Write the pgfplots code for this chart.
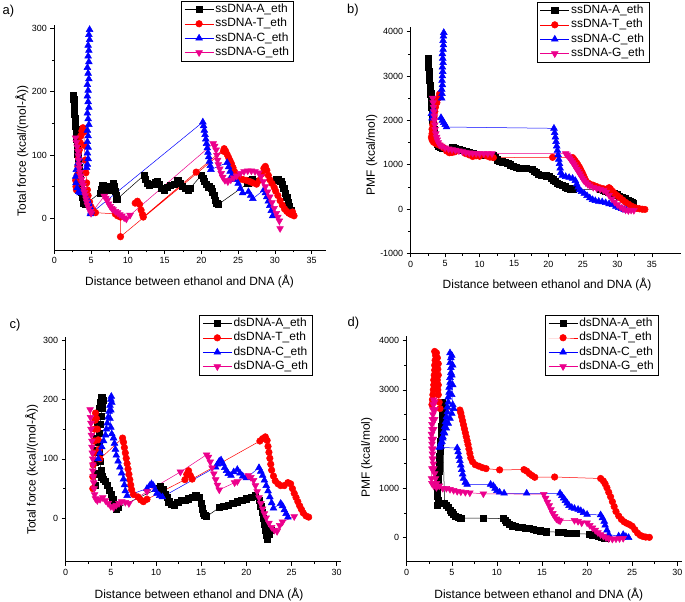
\documentclass[border=0pt]{standalone}
\usepackage{fontspec}
\setmainfont{Liberation Sans}
\usepackage{pgfplots}
\pgfplotsset{compat=1.18}

\pgfplotsset{
  panel/.style={
    scale only axis,
    axis lines=left,
    axis line style={-, line width=0.6bp},
    tick align=outside,
    major tick length=4bp, minor tick length=2.4bp,
    every tick/.style={black, line width=0.5bp},
    minor x tick num=1, minor y tick num=1,
    tick label style={font=\fontsize{9}{10}\selectfont},
    /pgf/number format/assume math mode=true,
    /pgf/number format/1000 sep={},
    label style={font=\fontsize{12}{14}\selectfont},
    xlabel={Distance between ethanol and DNA (Å)},
    unbounded coords=jump,
    legend cell align=left,
    legend style={draw=black, line width=0.5bp, anchor=north west,
      font=\fontsize{12}{14}\selectfont, inner xsep=3bp, inner ysep=1bp,
      row sep=0bp, nodes={inner sep=1.5bp, text height=8.8bp, text depth=2.6bp}},
    legend image code/.code={\draw[mark repeat=2,mark phase=2,#1]
      plot coordinates {(0bp,0bp) (14.5bp,0bp) (29bp,0bp)};},
    clip=false,
  },
  sA/.style={black, line width=0.5bp, mark=square*, mark size=3.1bp},
  sT/.style={red, line width=0.5bp, mark=*, mark size=3.3bp},
  sC/.style={blue, line width=0.5bp, mark=triangle*, mark size=3.9bp},
  sG/.style={magenta, line width=0.5bp, mark=triangle*, mark size=3.9bp, mark options={rotate=180}},
}

\begin{document}
\begin{tikzpicture}
\path[use as bounding box] (0,0) rectangle (685bp,602bp);

% a) ssDNA total force
\begin{axis}[panel, at={(54.3bp,352bp)}, anchor=south west,
  width=272.1bp, height=224.8bp,
  xmin=0, xmax=37, ymin=-50, ymax=305,
  xtick={0,5,...,35}, ytick={0,100,200,300},
  ylabel={Total force (kcal/(mol-Å))},
  xlabel style={at={(axis description cs:0.497,-0.141)}, anchor=center},
  ylabel style={at={(axis description cs:-0.1187,0.44)}, anchor=center},
  legend style={at={(0.466,1.108)}}]
\addplot[sA] coordinates {
(2.6,195) (2.65,188) (2.7,180) (2.72,172) (2.75,165) (2.8,158) (2.85,150) (2.9,145) (2.95,140) (3.0,133) (3.05,125) (3.1,117) (3.15,110) (3.2,102) (3.25,95) (3.3,88) (3.35,80) (3.4,72) (3.5,62) (3.6,52) (3.7,42) (3.8,34) (3.9,28) (4.0,24) (4.2,22)
(6.2,40) (6.4,46) (6.6,52) (6.8,50) (7.0,45) (7.6,44) (7.8,50) (8.0,55) (8.2,50) (8.3,43) (8.4,36) (8.5,30)
(12.2,68) (12.4,62) (12.6,56) (12.9,52) (13.3,54) (13.7,57) (14.0,58) (14.3,54) (14.6,48) (15.0,45) (15.4,49) (15.8,52) (16.3,54) (16.8,60) (17.1,56) (17.4,51) (17.8,48) (18.2,45) (18.5,48)
(20.0,68) (20.2,63) (20.4,58) (20.7,54) (21.0,50) (21.3,47) (21.5,42) (21.7,36) (21.9,29) (22.1,24) (22.3,22)
(26.3,55) (26.6,60) (26.9,62) (27.2,58)
(30.2,62) (30.5,61) (30.8,58) (31.0,54) (31.2,47) (31.4,40) (31.6,33) (31.8,26) (32.0,19) (32.2,12)
};
\addplot[sT] coordinates {
(2.9,60) (2.95,50) (3.0,45) (3.05,55) (3.1,68) (3.2,82) (3.3,95) (3.4,108) (3.5,120) (3.6,130) (3.75,138) (3.9,143) (4.0,136) (4.1,115) (4.2,92) (4.3,72) (4.4,56) (4.5,45) (4.6,36) (4.8,26) (5.0,18) (5.3,12) (5.6,9) (8.3,7) (8.6,4) (9.0,2) (9.0,-29) (23.0,106)
(nan,nan)
(11.0,24) (11.3,27) (11.6,22) (11.8,13) (12.0,6) (12.1,2) (19.3,73) (23.1,110) (23.3,106) (23.5,101) (23.7,96) (23.9,91) (24.1,86) (24.3,80) (24.5,74) (24.7,68) (24.9,64) (25.3,62) (25.7,61) (26.1,60) (26.6,58) (27.0,56) (27.5,54) (27.9,60) (28.2,70) (28.5,79) (28.7,82) (28.9,76) (29.1,68) (29.3,61) (29.6,55) (29.9,49) (30.1,43) (30.4,36) (30.7,28) (31.0,21) (31.3,15) (31.6,11) (31.9,8) (32.2,6) (32.4,10) (32.6,4)
};
\addplot[sC] coordinates {
(4.8,298) (4.7,290) (4.8,282) (4.6,273) (4.7,265) (4.6,256) (4.7,247) (4.5,238) (4.6,229) (4.7,220) (4.5,211) (4.6,202) (4.5,193) (4.6,184) (4.7,175) (4.5,166) (4.6,157) (4.7,148) (4.5,139) (4.6,130) (4.5,121) (4.6,112) (4.5,103) (4.6,94) (4.5,85) (4.4,80) (3.4,95) (3.2,87) (3.0,77) (2.9,66) (2.95,56) (3.1,48) (3.3,42) (3.5,40) (4.5,30) (4.7,24) (4.9,17) (5.0,11) (4.9,7)
(20.2,152) (20.3,146) (20.4,139) (20.5,132) (20.6,125) (20.7,118) (20.8,111) (20.9,104) (21.0,97) (21.1,90) (21.2,83) (21.3,77)
(23.5,88) (23.7,81) (23.9,74) (24.1,67) (24.3,61) (24.6,62) (25.0,55) (25.3,47) (25.6,40) (26.4,42) (26.7,36) (27.0,31)
(28.5,45) (28.7,40) (28.9,34) (29.1,27) (29.3,20) (29.5,12) (29.7,4)
};
\addplot[sG] coordinates {
(2.9,127) (3.0,120) (3.1,113) (3.2,106) (3.25,99) (3.3,92) (3.35,85) (3.4,79) (3.5,73) (3.6,67) (3.7,62) (3.8,57) (3.9,52) (4.0,46) (4.1,41) (4.2,36) (4.3,31) (4.4,26) (4.5,21) (4.7,16) (4.9,11) (5.0,8)
(6.8,35) (7.0,32) (7.2,28) (7.4,23) (7.6,19) (7.8,16) (8.0,14) (8.3,11) (8.6,9) (8.9,6) (9.2,4) (9.5,1) (9.8,-1) (10.3,5)
(21.6,118) (21.8,114) (22.0,108) (22.1,100) (22.2,92) (22.3,85) (22.5,78) (22.7,71) (22.9,65) (23.2,60) (23.6,58) (24.0,61) (24.4,64) (24.8,67) (25.3,71) (25.8,74) (26.3,75) (26.8,75) (27.3,74) (27.8,72) (28.1,66) (28.4,58) (28.7,50) (29.0,42) (29.3,34) (29.6,25) (29.9,16) (30.2,8) (30.4,2) (30.6,-4) (30.7,-16)
};
\legend{ssDNA-A\_eth, ssDNA-T\_eth, ssDNA-C\_eth, ssDNA-G\_eth}
\end{axis}

% b) ssDNA PMF
\begin{axis}[panel, at={(410.7bp,348.7bp)}, anchor=south west,
  width=270bp, height=226bp,
  xmin=0, xmax=39.2, ymin=-1000, ymax=4100,
  xtick={0,5,...,35}, ytick={-1000,0,...,4000},
  ylabel={PMF (kcal/mol)},
  xlabel style={at={(axis description cs:0.505,-0.140)}, anchor=center},
  ylabel style={at={(axis description cs:-0.1444,0.435)}, anchor=center},
  legend style={at={(0.467,1.112)}}]
\addplot[sA] coordinates {
(2.5,3400) (2.55,3300) (2.6,3200) (2.65,3100) (2.7,3000) (2.75,2900) (2.8,2800) (2.85,2700) (2.9,2600) (2.95,2500) (3.0,2400) (3.05,2300) (3.1,2200) (3.15,2100) (3.2,2000) (3.3,1900) (3.35,1800) (3.4,1700) (3.5,1600) (3.6,1520) (3.8,1460) (4.0,1420) (4.3,1390) (4.6,1370)
(6.1,1380) (6.5,1370) (7.0,1345) (7.5,1320) (8.0,1300) (8.5,1280) (9.0,1255) (9.5,1235) (10.0,1220) (10.5,1210)
(12.0,1200) (12.3,1160) (12.6,1110) (12.9,1080) (13.3,1065) (13.7,1050) (14.1,1030) (14.5,1000) (14.9,960) (15.3,935) (15.8,925) (16.3,920) (16.8,915)
(17.6,890) (17.9,860) (18.2,820) (18.5,790) (18.9,770) (19.3,760) (19.7,750)
(20.1,740) (20.4,700) (20.7,660) (21.0,620) (21.3,585) (21.6,560) (22.0,530) (22.4,500) (22.8,475) (23.2,455) (23.6,440)
(27.5,440) (27.9,420) (28.3,400) (28.7,385) (29.1,365) (29.5,345) (29.9,320) (30.3,295) (30.7,270) (31.1,240) (31.5,205) (31.8,170) (32.1,140) (32.3,120)
};
\addplot[sT] coordinates {
(4.2,2600) (4.0,2500) (3.8,2400) (3.6,2300) (3.5,2200) (3.4,2100) (3.3,2000) (3.2,1900) (3.1,1800) (3.1,1700) (3.0,1620) (3.1,1560) (3.3,1510) (3.6,1480) (4.0,1450) (4.4,1420) (4.8,1380) (5.2,1310) (5.6,1270) (6.0,1275) (6.4,1290)
(8.0,1250) (8.5,1220) (9.0,1185) (9.5,1200) (10.0,1190) (11.0,1200) (11.5,1170) (12.0,1160) (20.6,1165) (23.5,1160)
(23.7,1120) (23.9,1080) (24.1,1040) (24.3,990) (24.5,940) (24.7,880) (24.9,820) (25.1,750) (25.3,680) (25.5,620) (25.8,580) (26.1,555) (26.5,535) (27.0,505) (27.5,475) (28.0,455) (28.4,445) (28.8,480) (29.0,450) (29.3,400) (29.6,350) (30.0,300) (30.4,250) (30.8,200) (31.2,150) (31.6,110) (32.0,70) (32.4,40) (32.8,15) (33.2,5) (33.6,-5) (34.0,-10)
};
\addplot[sC] coordinates {
(4.8,3980) (4.75,3900) (4.7,3800) (4.75,3700) (4.7,3600) (4.6,3500) (4.65,3400) (4.7,3300) (4.6,3200) (4.65,3100) (4.6,3000) (4.55,2900) (4.6,2800) (4.5,2700) (4.55,2600) (4.5,2500) (3.3,2250) (3.0,2150) (3.1,2050) (4.4,2060) (4.6,2000) (4.8,1950) (5.0,1900) (5.2,1850)
(20.8,1820) (20.9,1720) (21.0,1620) (21.1,1520) (21.2,1420) (21.3,1320) (21.4,1220) (21.5,1120) (21.6,1020) (21.7,920) (21.8,820) (22.0,760) (22.5,730) (23.0,710) (23.5,690) (23.9,640) (24.1,560) (24.3,490) (24.5,430) (24.8,390) (25.2,350) (25.6,300) (26.0,250) (26.4,210) (26.8,185) (27.3,170) (27.8,160) (28.3,140) (28.8,115) (29.3,95) (29.8,60) (30.2,30) (30.6,5) (31.0,-15) (31.3,-25)
};
\addplot[sG] coordinates {
(3.2,2500) (3.25,2400) (3.3,2300) (3.35,2200) (3.4,2100) (3.45,2000) (3.5,1900) (3.55,1800) (3.65,1700) (3.75,1620) (3.85,1560) (4.0,1500) (4.2,1450) (4.5,1420) (5.0,1380) (5.5,1355) (6.0,1340) (6.5,1330) (7.0,1315) (7.5,1295) (8.0,1275) (8.5,1265) (9.0,1260) (9.5,1255) (10.0,1250) (10.6,1250) (11.2,1250) (11.8,1250)
(22.5,1250) (22.7,1220) (22.9,1180) (23.1,1140) (23.3,1100) (23.5,1050) (23.7,1000) (23.9,950) (24.1,900) (24.3,850) (24.5,800) (24.7,750) (24.9,700) (25.1,650) (25.4,600) (25.7,560) (26.0,525) (26.5,490) (27.0,465) (27.5,445) (28.0,420) (28.4,380) (28.8,310) (29.2,230) (29.6,160) (30.0,100) (30.4,50) (30.8,10) (31.2,-20) (31.6,-35) (32.0,-25) (32.4,-30)
};
\legend{ssDNA-A\_eth, ssDNA-T\_eth, ssDNA-C\_eth, ssDNA-G\_eth}
\end{axis}

% c) dsDNA total force
\begin{axis}[panel, at={(65.7bp,40.3bp)}, anchor=south west,
  width=275.5bp, height=224.7bp,
  xmin=0, xmax=30.5, ymin=-73, ymax=305,
  xtick={0,5,...,30}, ytick={0,100,200,300},
  ylabel={Total force (kcal/(mol-Å))},
  xlabel style={at={(axis description cs:0.484,-0.148)}, anchor=center},
  ylabel style={at={(axis description cs:-0.1234,0.41)}, anchor=center},
  legend style={at={(0.485,1.098)}}]
\addplot[sA] coordinates {
(3.3,55) (3.25,75) (3.3,95) (3.35,115) (3.4,135) (3.5,155) (3.6,172) (3.7,185) (3.8,195) (3.9,201) (4.0,204) (4.1,198) (4.0,186) (3.9,172) (3.8,158) (3.7,143) (3.65,128) (3.7,112) (3.8,96) (3.9,80) (4.0,70) (4.2,66) (4.4,62) (4.6,55) (4.8,47) (5.0,40) (5.2,32) (5.4,24) (5.6,16) (5.8,18)
(10.2,50) (10.5,53) (10.8,48) (11.0,41) (11.2,35) (11.4,28) (11.7,24) (12.0,22) (12.4,27) (12.8,30) (13.2,31) (13.6,33) (14.0,35) (14.4,38) (14.8,36) (15.0,26) (15.1,16) (15.2,9) (15.4,5) (15.6,3)
(17.0,18) (17.5,20) (18.0,22) (18.5,25) (19.0,28) (19.5,30) (20.0,33) (20.5,35) (21.0,38) (21.4,30) (21.6,20) (21.8,10) (21.9,0) (22.0,-10) (22.1,-20) (22.2,-28) (22.3,-35) (22.5,-26) (22.8,-20)
};
\addplot[sT] coordinates {
(3.0,50) (3.0,70) (3.05,90) (3.1,110) (3.15,130) (3.2,150) (3.25,165) (3.3,177) (3.4,168) (3.5,150) (3.6,132) (3.7,116) (3.8,100) (6.3,135) (6.4,128) (6.5,119) (6.6,110) (6.7,101) (6.8,92) (6.9,83) (7.0,74) (7.1,65) (7.2,56) (7.3,48) (7.5,40) (8.0,36) (8.3,31) (8.6,28) (9.0,32)
(13.2,65) (13.4,74) (13.6,80) (13.8,72) (14.0,66)
(21.5,130) (21.8,134) (22.1,137) (22.3,131) (22.4,121) (22.5,111) (22.6,101) (22.7,91) (22.8,81) (23.0,71) (23.2,63) (23.5,58) (23.8,55) (24.2,55) (24.6,60) (24.9,58) (25.1,50) (25.3,42) (25.5,35) (25.7,28) (25.9,21) (26.1,15) (26.3,9) (26.6,4) (26.9,2)
};
\addplot[sC] coordinates {
(3.6,100) (3.8,110) (4.0,120) (4.2,130) (4.4,140) (4.5,150) (4.6,160) (4.7,170) (4.8,180) (4.9,190) (5.0,200) (5.05,205) (5.1,195) (5.0,182) (4.9,168) (5.0,153) (5.1,142) (5.3,135) (5.4,126) (5.5,116) (5.6,106) (5.8,96) (6.0,86) (6.2,76) (6.4,66) (6.5,56) (6.6,46) (6.8,38)
(9.0,50) (9.3,55) (9.5,58) (9.7,55) (9.9,48) (10.1,42) (10.4,38) (10.7,36)
(16.6,86) (16.8,91) (17.0,96) (17.2,98) (17.4,92) (17.6,85) (17.8,80) (18.0,75) (18.3,72) (18.6,78) (19.0,82) (19.3,76) (19.6,71) (20.0,68)
(21.4,85) (21.6,79) (21.8,72) (22.0,64) (22.2,55) (22.4,46) (22.6,36) (22.8,26) (23.0,17)
(23.8,25) (24.0,21) (24.2,14) (24.4,8) (24.6,2)
};
\addplot[sG] coordinates {
(2.7,183) (2.75,170) (2.8,160) (2.8,150) (2.85,140) (2.9,130) (2.9,120) (2.95,110) (3.0,100) (3.0,90) (3.0,80) (3.05,70) (3.1,60) (3.15,50) (3.2,40) (3.3,33) (3.5,30) (3.8,32) (4.1,35) (4.4,30) (4.7,25) (5.0,20) (5.3,18) (5.6,22) (5.9,25) (6.2,28) (6.6,27) (7.0,25)
(9.0,45) (12.7,78) (15.6,107) (15.8,103) (16.0,95) (16.2,85) (16.4,75) (16.6,65) (16.8,56) (17.0,48)
(18.7,60) (19.0,62)
(20.2,72) (20.5,69) (20.8,64) (21.0,55) (21.2,45) (21.4,35) (21.6,25) (21.8,16) (22.0,8) (22.2,1) (22.5,-8) (22.8,-15) (23.1,-20) (23.4,-22) (23.7,-12) (24.0,-6) (25.3,3)
};
\legend{dsDNA-A\_eth, dsDNA-T\_eth, dsDNA-C\_eth, dsDNA-G\_eth}
\end{axis}

% d) dsDNA PMF
\begin{axis}[panel, at={(406.7bp,40.3bp)}, anchor=south west,
  width=275.1bp, height=226bp,
  xmin=0, xmax=30.5, ymin=-490, ymax=4100,
  xtick={0,5,...,30}, ytick={0,1000,...,4000},
  ylabel={PMF (kcal/mol)},
  xlabel style={at={(axis description cs:0.48,-0.147)}, anchor=center},
  ylabel style={at={(axis description cs:-0.145,0.46)}, anchor=center},
  legend style={at={(0.503,1.092)}}]
\addplot[sA] coordinates {
(3.4,650) (3.5,750) (3.4,850) (3.35,950) (3.4,1050) (3.5,1150) (3.5,1250) (3.55,1350) (3.6,1450) (3.6,1550) (3.65,1650) (3.7,1750) (3.7,1850) (3.75,1950) (3.8,2050) (3.8,2150) (3.85,2250) (3.9,2350) (3.9,2450) (3.95,2550) (4.0,2650) (3.9,2740)
(4.2,700) (4.4,660) (4.6,610) (4.8,560) (5.0,510) (5.2,470) (5.4,440) (5.7,410) (6.0,395) (8.5,395) (10.7,385) (10.9,350) (11.1,310) (11.4,270) (11.7,240) (12.0,225) (12.4,215) (12.8,205) (13.2,195) (13.6,185) (14.0,170) (14.4,155) (14.8,140) (15.2,130) (15.5,120)
(16.8,110) (17.3,100) (17.8,92) (18.3,86) (18.8,80)
(20.2,70) (20.6,58) (21.0,40) (21.3,22) (21.6,5) (21.9,-10) (22.1,-20)
};
\addplot[sT] coordinates {
(2.8,2700) (2.85,2800) (2.9,2900) (2.95,3000) (3.0,3100) (3.0,3200) (3.05,3300) (3.1,3400) (3.1,3500) (3.15,3600) (3.2,3700) (3.1,3780) (3.3,3750) (3.4,3650) (3.5,3530) (3.45,3420) (3.5,3300) (3.4,3200) (3.5,3100) (3.45,3000) (3.5,2900) (3.6,2750) (3.7,2620) (5.9,2590) (6.0,2530) (6.1,2450) (6.2,2370) (6.3,2290) (6.4,2210) (6.5,2130) (6.6,2050) (6.7,1970) (6.8,1890) (6.9,1800) (7.0,1710) (7.1,1620) (7.3,1540) (7.6,1480) (8.0,1450) (8.4,1420) (8.8,1400) (10.3,1375)
(13.0,1380) (13.3,1350) (13.6,1300) (13.9,1260) (14.2,1225) (16.4,1230) (21.5,1200) (21.8,1150) (22.0,1090) (22.2,1010) (22.4,920) (22.6,830) (22.8,730) (23.0,630) (23.2,530) (23.5,440) (23.8,370) (24.1,320) (24.4,290) (24.7,265) (25.0,230) (25.3,160) (25.6,90) (25.9,45) (26.2,22) (26.5,10) (26.9,5)
};
\addplot[sC] coordinates {
(3.8,1850) (3.9,1950) (4.0,2050) (4.1,2150) (4.2,2250) (4.3,2350) (4.4,2450) (4.5,2550) (4.5,2650) (4.6,2750) (4.6,2850) (4.7,2950) (4.7,3050) (4.8,3150) (4.8,3250) (4.9,3350) (4.9,3450) (4.8,3550) (4.9,3650) (4.8,3750) (5.0,3700) (5.1,3500) (5.0,3300) (5.1,3100) (5.0,2900) (5.1,2700) (5.2,2620) (5.0,2520) (4.8,2420) (4.6,2320) (4.4,2220) (4.2,2120) (4.0,2020) (3.8,1920) (3.6,1830) (5.6,1820) (5.7,1740) (5.8,1650) (5.9,1560) (6.0,1470) (6.1,1380) (6.2,1290) (6.3,1200) (6.5,1120) (6.7,1080)
(9.3,1080) (9.6,1050) (9.8,1000) (10.0,950) (10.3,920) (10.8,900) (13.3,900)
(17.0,900) (17.2,850) (17.4,800) (17.6,750) (17.8,700) (18.0,650) (18.3,610) (18.6,590) (19.0,570) (19.3,545) (19.6,505) (20.0,470)
(21.5,460) (21.7,400) (21.9,330) (22.0,250) (22.2,150) (22.4,60)
(23.5,30) (24.0,60) (24.3,20) (24.6,0)
};
\addplot[sG] coordinates {
(3.3,1100) (3.2,1200) (3.1,1300) (3.0,1400) (2.95,1500) (2.9,1600) (2.85,1700) (2.8,1800) (2.8,1900) (2.75,2000) (2.75,2100) (2.8,2200) (2.8,2300) (2.85,2400) (2.9,2500) (2.9,2600) (2.95,2700) (3.0,2800) (3.1,2750) (3.15,2600) (3.1,2400) (3.0,2200) (2.95,2000) (2.9,1800) (2.85,1600) (2.8,1400) (2.75,1200) (2.8,1100) (3.0,1050) (3.3,1020) (3.6,1050) (4.0,1000) (4.4,1000) (4.8,980) (5.2,960) (5.6,940) (6.0,930) (6.5,920) (7.0,910) (8.5,890)
(15.2,880) (15.4,800) (15.6,720) (15.8,650) (16.0,570) (16.2,490) (16.4,430) (16.6,380) (16.8,355) (17.0,340)
(18.6,350) (19.0,330) (19.4,300) (20.0,300) (20.3,250) (20.6,200) (20.9,150) (21.2,100) (21.5,60) (21.8,30) (22.1,0) (22.4,-20) (22.8,-30) (23.2,-25) (23.6,-20) (24.0,-15)
};
\legend{dsDNA-A\_eth, dsDNA-T\_eth, dsDNA-C\_eth, dsDNA-G\_eth}
\end{axis}

\node[font=\fontsize{13}{15}\selectfont] at (8.5bp,591bp) {a)};
\node[font=\fontsize{13}{15}\selectfont] at (353bp,592bp) {b)};
\node[font=\fontsize{13}{15}\selectfont] at (15bp,277bp) {c)};
\node[font=\fontsize{13}{15}\selectfont] at (353.5bp,279bp) {d)};
\end{tikzpicture}
\end{document}
